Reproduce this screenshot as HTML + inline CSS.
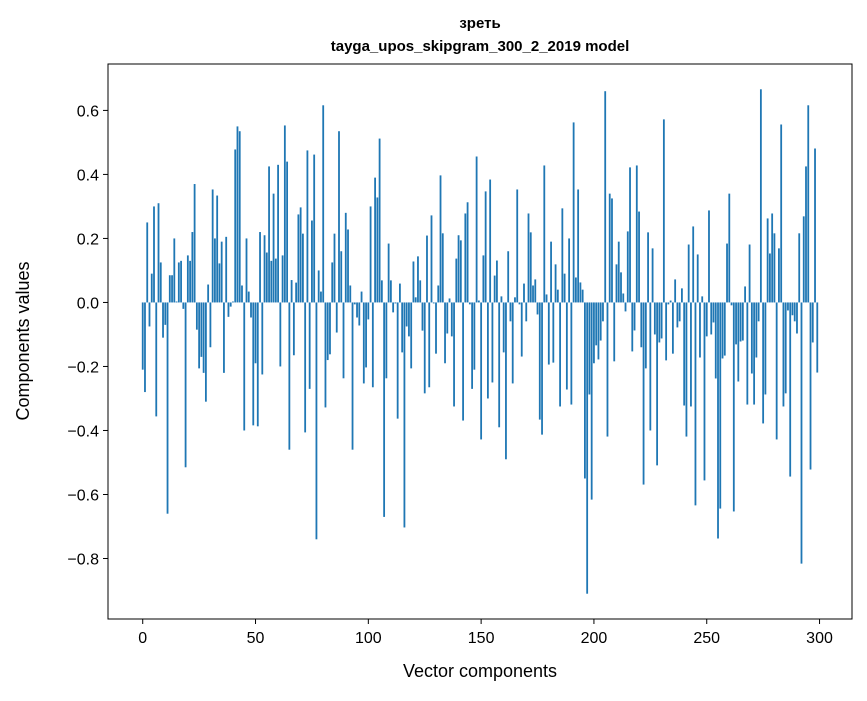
<!DOCTYPE html>
<html><head><meta charset="utf-8"><style>
body{margin:0;background:#fff;}
svg text{font-family:"Liberation Sans","DejaVu Sans",sans-serif;fill:#000;}
</style></head><body>
<svg id="chart" width="867" height="696" xmlns="http://www.w3.org/2000/svg">
<text x="480" y="28" text-anchor="middle" font-size="15" font-weight="bold">зреть</text>
<text x="480" y="51" text-anchor="middle" font-size="15" font-weight="bold">tayga_upos_skipgram_300_2_2019 model</text>
<g id="bars"></g>
<g id="axes"></g>
<rect x="108" y="64" width="744" height="555" fill="none" stroke="#000" stroke-width="1"/>
<text x="480" y="677" text-anchor="middle" font-size="18">Vector components</text>
<text transform="translate(29,341) rotate(-90)" text-anchor="middle" font-size="18">Components values</text>
</svg>
<script>
const values = [
-0.21,-0.28,0.25,-0.075,0.09,0.30,-0.356,0.31,0.125,-0.11,
-0.07,-0.66,0.085,0.085,0.2,0.003,0.125,0.13,-0.02,-0.515,
0.147,0.13,0.22,0.37,-0.085,-0.206,-0.17,-0.22,-0.31,0.056,
-0.14,0.353,0.2,0.334,0.122,0.19,-0.22,0.205,-0.045,-0.013,
0.003,0.478,0.55,0.535,0.053,-0.4,0.2,0.034,-0.047,-0.384,
-0.19,-0.387,0.22,-0.225,0.21,0.156,0.425,0.13,0.34,0.137,
0.43,-0.2,0.147,0.553,0.44,-0.46,0.07,-0.165,0.062,0.275,
0.297,0.215,-0.406,0.475,-0.27,0.256,0.462,-0.74,0.1,0.034,
0.616,-0.328,-0.18,-0.162,0.125,0.215,-0.094,0.535,0.16,-0.237,
0.28,0.228,0.053,-0.46,-0.006,-0.047,-0.072,0.034,-0.253,-0.203,
-0.053,0.3,-0.265,0.39,0.328,0.512,0.069,-0.67,-0.237,0.184,
0.069,-0.031,-0.003,-0.363,0.059,-0.156,-0.703,-0.075,-0.106,-0.206,
0.128,0.016,0.144,0.069,-0.088,-0.284,0.209,-0.265,0.272,-0.003,
-0.16,0.053,0.397,0.216,-0.19,-0.097,0.0125,-0.106,-0.325,0.137,
0.21,0.194,-0.369,0.278,0.313,-0.006,-0.27,-0.21,0.456,0.006,
-0.428,0.147,0.347,-0.3,0.384,-0.25,0.084,0.131,-0.39,0.019,
-0.156,-0.49,0.16,-0.059,-0.253,0.016,0.353,-0.006,-0.169,0.059,
-0.059,0.278,0.219,0.053,0.072,-0.0375,-0.366,-0.413,0.428,0.025,
-0.194,0.19,-0.188,0.119,0.04,-0.325,0.294,0.09,-0.272,0.2,
-0.319,0.5625,0.078,0.353,0.0625,0.04,-0.55,-0.91,-0.2875,-0.616,
-0.19,-0.134,-0.178,-0.119,-0.059,0.66,-0.419,0.34,0.325,-0.184,
0.119,0.19,0.094,0.028,-0.028,0.222,0.422,-0.153,-0.0875,0.428,
0.284,-0.14,-0.569,-0.206,0.219,-0.4,0.169,-0.1,-0.509,-0.125,
-0.1125,0.572,-0.181,-0.006,0.006,-0.16,0.072,-0.078,-0.059,0.044,
-0.322,-0.419,0.181,-0.325,0.2375,-0.634,0.15,-0.172,0.019,-0.556,
-0.106,0.2875,-0.1,-0.0625,-0.2375,-0.7375,-0.644,-0.175,-0.166,0.184,
0.34,-0.009,-0.653,-0.131,-0.247,-0.122,-0.119,0.05,-0.319,0.181,
-0.222,-0.319,-0.172,-0.059,0.666,-0.378,-0.2875,0.2625,0.153,0.278,
0.216,-0.428,0.169,0.556,-0.325,-0.284,-0.025,-0.544,-0.04,-0.059,
-0.097,0.216,-0.816,0.269,0.425,0.616,-0.522,-0.125,0.481,-0.219
];
const xTicks = [0,50,100,150,200,250,300];
const yTicks = [-0.8,-0.6,-0.4,-0.2,0.0,0.2,0.4,0.6];
const yTickLabels = ["−0.8","−0.6","−0.4","−0.2","0.0","0.2","0.4","0.6"];

const NS="http://www.w3.org/2000/svg";
const PL=108,PR=852,PT=64,PB=619;
const XMIN=-15.39,XMAX=314.39,YMIN=-0.989,YMAX=0.745;
function sx(v){return PL+(v-XMIN)/(XMAX-XMIN)*(PR-PL);}
function sy(v){return PB-(v-YMIN)/(YMAX-YMIN)*(PB-PT);}
const bars=document.getElementById('bars');
values.forEach((v,i)=>{
  const r=document.createElementNS(NS,'rect');
  const x0=sx(i-0.4),x1=sx(i+0.4);
  const y0=sy(Math.max(v,0)),y1=sy(Math.min(v,0));
  r.setAttribute('x',x0);r.setAttribute('width',x1-x0);
  r.setAttribute('y',y0);r.setAttribute('height',Math.max(y1-y0,0.3));
  r.setAttribute('fill','#1f77b4');
  
  
  bars.appendChild(r);
});
const axes=document.getElementById('axes');
xTicks.forEach(t=>{
  const x=sx(t);
  const l=document.createElementNS(NS,'line');
  l.setAttribute('x1',x);l.setAttribute('x2',x);l.setAttribute('y1',PB);l.setAttribute('y2',PB+5);
  l.setAttribute('stroke','#000');
  
  
  axes.appendChild(l);
  const tx=document.createElementNS(NS,'text');
  tx.setAttribute('x',x);tx.setAttribute('y',PB+24);tx.setAttribute('text-anchor','middle');tx.setAttribute('font-size','16');
  tx.textContent=String(t);
  
  
  axes.appendChild(tx);
});
yTicks.forEach((t,k)=>{
  const y=sy(t);
  const l=document.createElementNS(NS,'line');
  l.setAttribute('x1',PL-5);l.setAttribute('x2',PL);l.setAttribute('y1',y);l.setAttribute('y2',y);
  l.setAttribute('stroke','#000');
  
  
  axes.appendChild(l);
  const tx=document.createElementNS(NS,'text');
  tx.setAttribute('x',PL-9);tx.setAttribute('y',y+6);tx.setAttribute('text-anchor','end');tx.setAttribute('font-size','16');
  tx.textContent=yTickLabels[k];
  
  
  axes.appendChild(tx);
});
</script>
</body></html>
